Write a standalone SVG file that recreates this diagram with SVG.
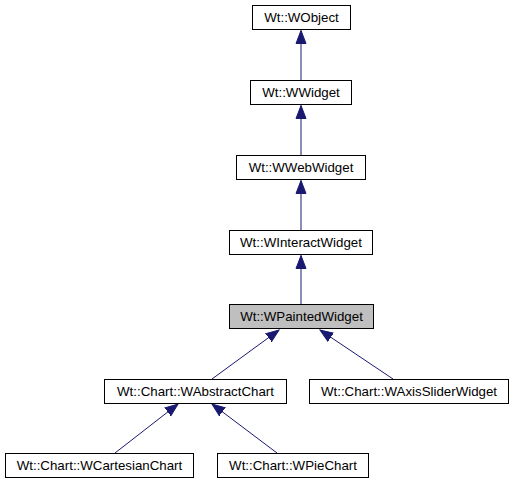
<svg xmlns="http://www.w3.org/2000/svg" width="515" height="485" viewBox="0 0 515 485">
<style>
.node rect{fill:#ffffff;stroke:#000000;stroke-width:1}
.node.cur rect{fill:#bfbfbf}
.node text{font-family:"Liberation Sans",Arial,Helvetica,sans-serif;font-size:13.3px;fill:#000000;text-anchor:middle}
.edges line{stroke:#191970;stroke-width:1;marker-end:url(#arr)}
</style>
<defs>
<marker id="arr" markerUnits="userSpaceOnUse" markerWidth="14" markerHeight="12" viewBox="0 -6 14 12" refX="13" refY="0" orient="auto">
<path d="M0,-5 L13,0 L0,5 Z" fill="#191970" stroke="#191970" stroke-width="1"/>
</marker>
</defs>
<rect width="515" height="485" fill="#ffffff"/>
<g class="edges">
<line x1="301" y1="80" x2="301" y2="30.5"/>
<line x1="301" y1="155" x2="301" y2="105.5"/>
<line x1="301" y1="230" x2="301" y2="180.5"/>
<line x1="301" y1="304" x2="301" y2="255.5"/>
<line x1="212" y1="379" x2="279" y2="330"/>
<line x1="393" y1="379" x2="320" y2="330"/>
<line x1="115" y1="453" x2="178" y2="404"/>
<line x1="277" y1="453" x2="212" y2="404"/>
</g>
<g id="WObject" class="node"><rect x="252.5" y="5.5" width="98" height="24"/><text x="301.5" y="22">Wt::WObject</text></g>
<g id="WWidget" class="node"><rect x="250.5" y="80.5" width="101" height="24"/><text x="301" y="97">Wt::WWidget</text></g>
<g id="WWebWidget" class="node"><rect x="236.5" y="155.5" width="129" height="24"/><text x="301" y="172">Wt::WWebWidget</text></g>
<g id="WInteractWidget" class="node"><rect x="229.5" y="230.5" width="143" height="24"/><text x="301" y="247">Wt::WInteractWidget</text></g>
<g id="WPaintedWidget" class="node cur"><rect x="229.5" y="304.5" width="144" height="24"/><text x="301.5" y="321">Wt::WPaintedWidget</text></g>
<g id="WAbstractChart" class="node"><rect x="104.5" y="379.5" width="182" height="24"/><text x="195.5" y="396">Wt::Chart::WAbstractChart</text></g>
<g id="WAxisSliderWidget" class="node"><rect x="309.5" y="379.5" width="199" height="24"/><text x="409" y="396">Wt::Chart::WAxisSliderWidget</text></g>
<g id="WCartesianChart" class="node"><rect x="5.5" y="453.5" width="188" height="24"/><text x="99.5" y="470">Wt::Chart::WCartesianChart</text></g>
<g id="WPieChart" class="node"><rect x="217.5" y="453.5" width="151" height="24"/><text x="293" y="470">Wt::Chart::WPieChart</text></g>
</svg>
